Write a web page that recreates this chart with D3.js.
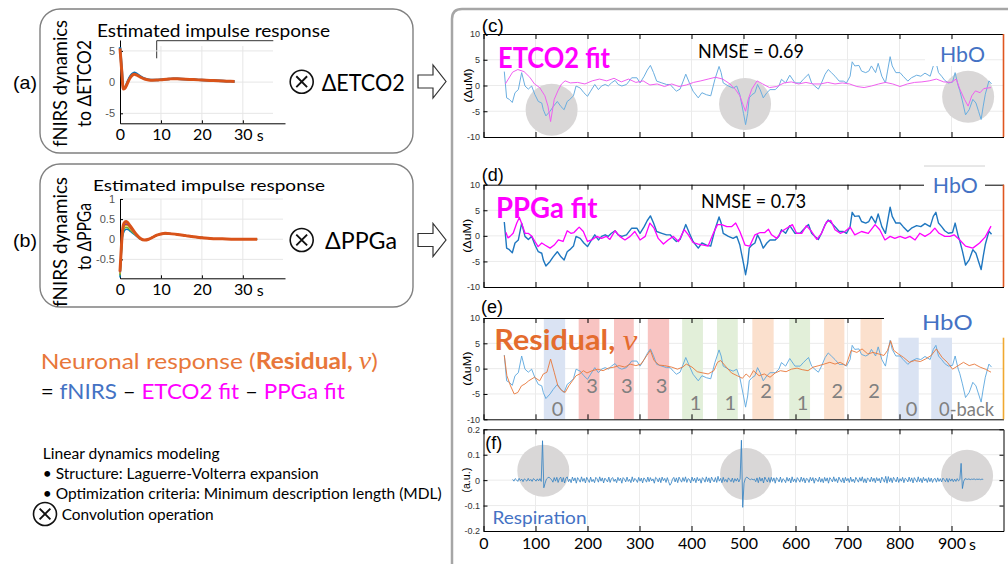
<!DOCTYPE html>
<html><head><meta charset="utf-8">
<script src="https://cdn.jsdelivr.net/npm/d3@7"></script>
<style>body{margin:0;background:#fff}svg{display:block}</style>
</head><body>
<svg id="chart" width="1008" height="564"></svg>
<script>
// ---------------- DATA ----------------
// impulse response (a): fNIRS dynamics to dETCO2
const irTa = [0,0.4,0.8,1.2,1.6,2,2.5,3,3.5,4,5,6,7,8,9,10,12,13,14,16,18,20,22,24,26,28];
const irA_blue   = [5.6,2.2,-1.0,-0.9,-0.4,0.25,0.9,1.3,1.5,1.35,0.9,0.55,0.38,0.32,0.33,0.4,0.5,0.55,0.52,0.45,0.4,0.33,0.27,0.2,0.15,0.1];
const irA_orange = [5.4,2.0,-1.1,-1.0,-0.5,0.1,0.7,1.1,1.25,1.15,0.8,0.5,0.35,0.3,0.32,0.38,0.5,0.55,0.52,0.45,0.4,0.33,0.27,0.2,0.15,0.1];
// impulse response (b): fNIRS dynamics to dPPGa
const irTb = [0,0.3,0.6,1,1.5,2,2.5,3,4,5,6,7,8,9,10,11,12,14,16,18,20,22,25,28,31,33.5];
const irB_blue   = [-0.95,-0.4,0.05,0.2,0.25,0.24,0.2,0.16,0.08,0.0,-0.02,0.0,0.05,0.1,0.13,0.14,0.14,0.12,0.09,0.06,0.04,0.02,0.01,0,0,0];
const irB_green  = [-0.9,-0.35,0.1,0.26,0.3,0.28,0.23,0.18,0.09,0.01,-0.02,0.0,0.05,0.1,0.13,0.14,0.14,0.12,0.09,0.06,0.04,0.02,0.01,0,0,0];
const irB_yellow = [-0.85,-0.3,0.14,0.31,0.35,0.33,0.27,0.21,0.1,0.01,-0.02,0.0,0.05,0.1,0.13,0.15,0.14,0.12,0.09,0.06,0.04,0.02,0.01,0,0,0];
const irB_purple = [-0.82,-0.27,0.17,0.35,0.38,0.36,0.3,0.23,0.11,0.02,-0.02,0.0,0.05,0.1,0.13,0.15,0.14,0.12,0.09,0.06,0.04,0.02,0.01,0,0,0];
const irB_orange = [-0.8,-0.25,0.2,0.4,0.44,0.4,0.33,0.26,0.12,0.02,-0.02,0.0,0.05,0.1,0.13,0.15,0.14,0.12,0.09,0.06,0.04,0.02,0.01,0,0,0];

// time axis ticks (s)
const xTicks = [0,100,200,300,400,500,600,700,800,900];
const yTicksUM = [-10,-5,0,5,10];
const yTicksAU = [-0.2,-0.1,0,0.1,0.2];

// HbO (uM)
const hboT = [40,44.5,49.7,55.4,60.6,67,73.4,79.8,86.2,92.6,99,105.4,112,115,120,128,134,142,149,155,161,166,173,178,186,193,200,206,214,221,227,234,240,246,253,259,266,275,285,295,301,309,315,321,327,333,343,352,359,365,371,378,384,389,396,403,413,420,429,437,445,453,457,461,471,480,487,493,500,504,508,511,516,522,527,532,538,545,551,561,568,573,581,589,599,609,615,625,631,637,644,650,657,663,669,676,684,692,698,705,709,714,722,727,735,741,746,754,759,766,773,777,782,786,793,801,807,816,823,833,841,849,859,865,870,875,881,887,894,902,907,913,916,921,927,934,941,947,952,957,961,965,972,977];
const hboV = [2.7,-2.4,-2.7,-3.3,-1.4,-0.8,2.5,-0.1,-0.7,-0.1,-1.8,-3.1,-3.4,-4.7,-5.9,-5.0,-4.1,-3.1,-4.1,-4.7,-3.1,-2.7,-2.0,-0.1,-0.5,-1.4,-2.1,-1.1,0.2,-0.8,-0.1,0.2,-0.1,0.5,1.0,0.2,-0.1,0.2,1.5,1.5,0.5,1.8,3.0,3.9,2.5,0.85,0.5,0.2,0.2,-0.5,-1.1,-0.7,0.85,2.2,0.5,-1.1,-2.4,-1.4,-1.8,-2.0,1.2,3.7,2.5,0.5,-0.1,-0.5,-0.1,-1.8,-5.4,-7.6,-5.4,-2.4,-1.8,-1.4,0.2,-0.8,-2.4,-1.4,-0.8,-0.8,-0.1,1.2,0.5,2.0,0.5,0.5,1.2,2.2,0.5,-0.1,-0.7,0.5,2.2,3.1,2.5,1.8,0.85,0.85,0.5,1.8,4.6,3.8,3.9,2.8,2.5,2.8,3.8,2.5,4.3,1.8,0.5,2.8,5.6,3.8,2.5,2.5,1.8,0.85,1.5,2.0,1.8,2.4,1.8,3.8,4.6,2.5,1.8,1.0,0.5,0.65,2.5,-0.1,-1.0,-3.0,-5.7,-4.7,-2.7,-3.4,-5.0,-6.6,-4.0,-1.7,0.9,0.3];

// ETCO2 fit (uM)
const etT = [42,56,66,78,89,98,108,118,124,129,136,143,150,157,167,181,195,209,223,237,251,265,279,293,307,320,334,348,362,376,390,404,418,432,446,460,474,484,493,500,504,509,516,526,537,550,564,578,592,606,620,634,648,662,676,690,704,718,732,746,760,773,787,801,815,829,843,857,871,885,899,909,916,925,932,939,946,955,962,976];
const etV = [0.3,2.6,3.1,2.7,1.6,0.3,-0.4,-2.0,-4.0,-7.0,-2.7,-1.05,0.3,0.9,0.5,0.6,0.3,0.9,1.25,0.9,1.4,0.7,1.25,0.6,0.9,0.1,0.3,-0.2,0.3,-0.2,0.1,0.6,0.9,1.25,1.6,1.25,0.3,-0.7,-2.0,-4.0,-5.0,-2.7,-0.7,0.9,0.3,-0.4,-0.2,0.5,0.7,0.3,0.6,0.3,0.3,0.6,0.3,0.5,0.3,-0.2,-0.4,-0.1,0.3,0.6,0.3,-0.2,0.3,0.6,0.7,0.9,1.25,0.7,0.6,1.25,-0.7,-2.7,-4.0,-2.0,-1.05,-1.4,-0.6,-0.4];

// PPGa fit (uM)
const ppT = [43,47,51,57,64,69,73,80,86,93,99,105,112,118,128,136,144,153,161,168,174,179,184,192,200,208,218,227,236,243,253,262,272,282,291,301,311,320,328,336,346,355,365,375,386,394,403,413,423,432,442,450,458,468,477,485,493,503,512,522,532,541,548,554,564,573,583,594,602,612,621,631,641,650,660,668,676,686,695,705,714,727,740,753,762,772,782,791,801,811,820,830,839,849,859,868,876,887,897,905,916,927,941,954,965,976];
const ppV = [0.7,-0.4,-0.1,0.5,2.5,3.6,2.5,0.5,0.5,-0.1,-1.1,-2.1,-1.4,-1.8,-2.4,-1.8,-0.8,-1.1,1.0,0.5,0.65,1.2,1.7,0.85,-1.1,-0.8,-0.1,-0.5,-0.1,-0.7,1.0,-0.1,-0.8,-0.1,0.85,-0.8,-0.1,2.5,1.5,-0.5,-1.6,-0.8,-0.1,-1.1,1.2,0.2,-1.3,-1.6,-1.8,-2.0,0.5,2.2,2.2,1.8,1.8,2.5,0.85,-1.8,-2.0,0.2,0.65,0.65,1.3,0.2,-0.5,0.85,1.5,2.2,0.5,0.5,2.0,0.85,-0.7,0.5,2.8,3.0,1.2,0.5,0.85,1.7,0.2,0.85,0.5,2.2,1.2,-0.8,-0.1,-0.5,-0.1,-0.5,-0.1,-0.8,0.5,-0.1,0.5,1.5,0.5,-0.1,-0.1,0.2,-0.8,-2.0,-2.4,-1.4,-0.2,1.9];

// Residual v (uM)
const resT = [40,45,52,59,66,73,80,87,98,108,115,122,129,136,143,150,157,164,171,178,185,192,199,209,220,230,240,251,261,272,282,293,303,314,321,328,338,348,362,373,383,390,401,411,422,432,443,450,456,467,477,488,498,505,512,519,530,540,551,561,571,582,592,603,613,624,634,645,655,666,676,686,697,707,718,728,739,749,760,770,777,783,789,798,808,819,829,840,850,861,871,882,892,902,913,923,934,944,955,965,976];
const resV = [2.6,-1.4,-3.4,-5.0,-4.7,-3.4,-3.0,-2.4,-1.7,-2.4,-1.05,-0.7,1.9,-0.7,-3.4,-4.3,-4.7,-3.4,-2.4,-1.4,-1.05,-0.4,-0.85,-0.4,-0.1,-0.4,0.1,0.3,0.6,0.3,0.9,0.6,0.9,2.6,3.6,1.6,0.7,0.6,0.3,-0.1,0.3,0.9,0.3,-0.6,-0.85,-1.05,-0.4,1.25,1.6,0.3,-0.85,-1.4,-1.9,-1.05,-1.7,-0.4,-1.4,-1.05,-1.7,-0.85,-0.4,-0.6,-0.1,0.1,-0.2,-0.4,0.3,0.6,0.9,1.25,0.9,1.25,0.6,3.6,3.2,3.9,2.9,3.2,2.9,2.6,3.6,5.5,3.6,2.9,2.2,1.25,1.6,1.4,1.9,2.6,3.9,2.2,1.25,-0.1,0.6,1.25,0.6,0.9,0.3,-0.1,-0.7];

// Respiration (a.u.), sampled every 2.5 s from 56 s
const respStart = 56, respStep = 2.5;
const resp = [
 0.003,-0.004,0.006,0.001,-0.005,0.007,-0.002,0.004,-0.006,0.005,0.001,-0.004,0.007,-0.003,0.003,-0.005,0.006,0.002,-0.004,0.005,
 -0.003,0.006,-0.005,0.155,-0.03,-0.012,0.004,0.009,0.012,0.006,0.002,-0.008,0.01,-0.004,0.011,-0.009,0.006,0.012,-0.007,0.01,
 -0.011,0.008,0.013,-0.006,0.004,-0.01,0.012,-0.003,0.009,-0.012,0.01,0.002,-0.008,0.013,-0.005,0.007,-0.011,0.011,0.001,-0.009,
 0.012,-0.006,0.003,-0.01,0.011,0.005,-0.008,0.013,-0.004,0.009,-0.011,0.008,0.001,-0.007,0.012,-0.009,0.006,0.01,-0.005,0.004,
 -0.01,0.011,-0.002,0.008,-0.012,0.01,0.004,-0.007,0.012,-0.005,0.003,-0.01,0.013,-0.006,0.007,0.001,-0.009,0.011,-0.004,0.008,
 -0.011,0.009,0.002,-0.008,0.012,-0.006,0.01,-0.003,0.005,-0.012,0.011,0.006,-0.007,0.009,-0.01,0.012,-0.002,0.007,-0.009,0.01,
 -0.006,-0.02,-0.012,0.004,0.011,-0.007,0.009,-0.01,0.012,0.002,-0.008,0.01,-0.005,0.013,-0.009,0.006,0.003,-0.011,0.012,-0.004,
 0.008,-0.01,0.011,-0.003,0.006,-0.012,0.01,0.004,-0.008,0.013,-0.006,0.009,-0.011,0.012,0.001,-0.007,0.01,-0.009,0.015,-0.004,
 0.007,-0.01,0.011,-0.005,0.003,-0.008,0.009,0.002,-0.006,0.008,-0.009,0.006,-0.004,0.007,-0.007,0.005,0.157,-0.107,-0.012,0.006,
 0.012,0.009,0.004,0.002,0.005,0.001,0.004,-0.006,0.009,-0.01,0.011,-0.004,0.008,-0.011,0.012,0.002,-0.007,0.01,-0.009,0.011,
 -0.005,0.009,-0.012,0.01,0.003,-0.007,0.012,-0.009,0.006,0.001,-0.01,0.011,-0.004,0.008,-0.011,0.013,-0.006,0.005,-0.009,0.01,
 0.002,-0.008,0.012,-0.005,0.009,-0.011,0.007,0.004,-0.009,0.011,-0.003,0.01,-0.012,0.008,0.001,-0.006,0.012,-0.008,0.006,-0.01,
 0.011,-0.004,0.009,-0.012,0.01,0.003,-0.007,0.013,-0.005,0.006,-0.01,0.012,0.001,-0.008,0.009,-0.011,0.011,-0.003,0.007,-0.009,
 0.012,-0.006,0.004,-0.01,0.011,0.002,-0.008,0.01,-0.004,0.013,-0.009,0.006,-0.011,0.009,0.003,-0.007,0.012,-0.005,0.008,-0.01,
 0.01,-0.003,0.007,-0.011,0.012,0.004,-0.008,0.015,-0.012,0.014,-0.006,0.009,-0.01,0.011,0.002,-0.007,0.012,-0.009,0.006,-0.004,
 0.011,-0.01,0.008,0.003,-0.007,0.012,-0.005,0.009,-0.011,0.01,0.001,-0.008,0.013,-0.006,0.007,-0.01,0.011,-0.003,0.006,-0.009,
 0.01,-0.006,0.008,-0.009,0.004,0.007,-0.008,0.009,-0.005,0.006,-0.007,0.008,0.002,-0.006,0.007,-0.008,0.006,-0.004,0.005,-0.006,
 0.004,-0.005,0.006,-0.003,0.002,0.066,-0.033,-0.004,0.006,0.004,0.003,0.005,0.002,0.004,0.003,0.005,0.002,0.004,0.003,0.004,
 0.002,0.004,0.003];

// highlighted events (gray discs)
const evC_T = [131,503,932], evC_V = [-4.7,-3.6,-2.2];
const evF_T = [115,505,930], evF_V = [0.037,0.024,0.017];

// n-back task blocks
const blkStart = [116,183,251,316,382,449,517,588,655,725,798,861];
const blkEnd   = [157,223,289,357,422,489,558,628,694,766,837,901];
const blkLabel = ["0","3","3","3","1","1","2","1","2","2","0","0-back"];

// ---------------- DRAWING ----------------
const svg = d3.select("#chart");
svg.append("rect").attr("width",1008).attr("height",564).attr("fill","#fff");

function txt(g,x,y,s,o={}){
  const t=g.append("text").attr("x",x).attr("y",y).text(s)
    .attr("font-family",o.family||"Lato").attr("font-size",o.size||14)
    .attr("font-weight",o.weight||"normal").attr("fill",o.fill||"#000")
    .attr("text-anchor",o.anchor||"start").attr("dominant-baseline","central");
  if(o.len) t.attr("textLength",o.len).attr("lengthAdjust","spacingAndGlyphs");
  if(o.rotate) t.attr("transform",`rotate(${o.rotate},${x},${y})`);
  return t;
}
function otimes(cx,cy,r){
  const g=svg.append("g");
  g.append("circle").attr("cx",cx).attr("cy",cy).attr("r",r).attr("fill","#fff").attr("stroke","#111").attr("stroke-width",1.6);
  const a=r*0.47;
  g.append("path").attr("d",`M${cx-a},${cy-a}L${cx+a},${cy+a}M${cx+a},${cy-a}L${cx-a},${cy+a}`)
    .attr("stroke","#111").attr("stroke-width",1.9).attr("fill","none");
}
function arrow(x0,cy){
  const pts=[[x0,cy-6.5],[x0+15,cy-6.5],[x0+15,cy-16.5],[x0+28,cy],[x0+15,cy+16.5],[x0+15,cy+6.5],[x0,cy+6.5]];
  svg.append("path").attr("d","M"+pts.map(p=>p.join(",")).join("L")+"Z")
    .attr("fill","#fff").attr("stroke","#333").attr("stroke-width",1.2);
}

// ---- left boxes
const L = svg.append("g");
L.append("rect").attr("x",40).attr("y",9).attr("width",373).attr("height",144).attr("rx",20)
  .attr("fill","#fff").attr("stroke","#808080").attr("stroke-width",1.4);
L.append("rect").attr("x",40).attr("y",164).attr("width",373).attr("height",143).attr("rx",20)
  .attr("fill","#fff").attr("stroke","#808080").attr("stroke-width",1.4);

txt(L,13,82,"(a)",{family:"Liberation Sans",size:19,len:24});
txt(L,13,240,"(b)",{family:"Liberation Sans",size:19,len:24});
txt(L,59,83.5,"fNIRS dynamics",{size:19,anchor:"middle",rotate:-90,len:127});
txt(L,83,83.5,"to ΔETCO2",{size:19,anchor:"middle",rotate:-90,len:87});
txt(L,59,242,"fNIRS dynamics",{size:19,anchor:"middle",rotate:-90,len:130});
txt(L,83,236.5,"to ΔPPGa",{size:19,anchor:"middle",rotate:-90,len:67});

// small charts
const xa=d3.scaleLinear().domain([0,40.3]).range([120,285]);
const ya=d3.scaleLinear().domain([-6.6,6.75]).range([123.3,40]);
const xb=xa;
const yb=d3.scaleLinear().domain([-0.97,1]).range([278.3,199]);

function smallChart(xs,ys,yt,gridTop,gridRight){
  const g=svg.append("g");
  g.selectAll(null).data([10,20,30]).join("line")
    .attr("x1",d=>xs(d)).attr("x2",d=>xs(d)).attr("y1",gridTop).attr("y2",ys.range()[0])
    .attr("stroke","#e6e6e6");
  g.selectAll(null).data(yt).join("line")
    .attr("x1",xs(0)).attr("x2",gridRight).attr("y1",d=>ys(d)).attr("y2",d=>ys(d))
    .attr("stroke","#e6e6e6");
  const ax=g.append("g").attr("transform",`translate(0,${ys.range()[0]})`)
    .call(d3.axisBottom(xs).tickValues([0,10,20,30]).tickSize(-3).tickSizeOuter(0).tickPadding(5.5).tickFormat(d=>String(d)));
  ax.selectAll("text").attr("font-family","Lato").attr("font-size",16).attr("fill","#000");
  const ay=g.append("g").attr("transform",`translate(${xs(0)},0)`)
    .call(d3.axisLeft(ys).tickValues(yt).tickSize(-3).tickSizeOuter(0).tickPadding(5).tickFormat(d=>String(d)));
  ay.selectAll("text").attr("font-family","Liberation Sans").attr("font-size",11).attr("fill","#555");
  g.selectAll(".domain").attr("stroke","#000");
  g.selectAll(".tick line").attr("stroke","#000");
  txt(g,xs(30)+14,ys.range()[0]+11.5,"s",{size:16});
  return g;
}
const gA=smallChart(xa,ya,[-5,0,5],46,273);
const gB=smallChart(xb,yb,[-0.5,0,0.5,1],199,283);
// frame fragment in (a)
L.append("path").attr("d","M156.7,58.3V40.7H273.3").attr("fill","none").attr("stroke","#333").attr("stroke-width",1);

const irLine=(xs,ys)=>d3.line().x(d=>xs(d[0])).y(d=>ys(d[1])).curve(d3.curveMonotoneX);
gA.append("path").datum(d3.zip(irTa,irA_blue)).attr("d",irLine(xa,ya)).attr("fill","none").attr("stroke","#0072bd").attr("stroke-width",2.5);
gA.append("path").datum(d3.zip(irTa,irA_orange)).attr("d",irLine(xa,ya)).attr("fill","none").attr("stroke","#d95319").attr("stroke-width",3);
[[irB_blue,"#0072bd"],[irB_green,"#77ac30"],[irB_yellow,"#edb120"],[irB_purple,"#7e2f8e"],[irB_orange,"#d95319"]].forEach(([v,c],i)=>{
  gB.append("path").datum(d3.zip(irTb,v)).attr("d",irLine(xb,yb)).attr("fill","none").attr("stroke",c).attr("stroke-width",i===4?3:1.6);
});

txt(L,97,30,"Estimated impulse response",{size:17,len:233});
txt(L,93,184.3,"Estimated impulse response",{size:16,len:232});

otimes(301.7,81.7,11.5);
otimes(301.7,240,11.5);
txt(L,321.7,82,"ΔETCO2",{size:23,len:83});
txt(L,325,240,"ΔPPGa",{size:23,len:72});
arrow(418,81.5);
arrow(418,240);

// lower-left text
const ORANGE="#e8773a", HBLUE="#4472c4", MAG="#ff00ff";
{
  const t=L.append("text").attr("x",40.7).attr("y",360).attr("dominant-baseline","central")
    .attr("font-family","Lato").attr("font-size",22).attr("fill",ORANGE)
    .attr("textLength",337).attr("lengthAdjust","spacingAndGlyphs");
  t.append("tspan").text("Neuronal response (");
  t.append("tspan").attr("font-weight","bold").text("Residual, ");
  t.append("tspan").attr("font-family","Liberation Serif").attr("font-style","italic").attr("font-size",25).text("v");
  t.append("tspan").text(")");
  const t2=L.append("text").attr("x",40.7).attr("y",390).attr("dominant-baseline","central")
    .attr("font-family","Lato").attr("font-size",22).attr("fill","#000")
    .attr("textLength",304).attr("lengthAdjust","spacingAndGlyphs");
  t2.append("tspan").text("= ");
  t2.append("tspan").attr("fill",HBLUE).text("fNIRS");
  t2.append("tspan").text(" – ");
  t2.append("tspan").attr("fill",MAG).text("ETCO2 fit");
  t2.append("tspan").text(" – ");
  t2.append("tspan").attr("fill",MAG).text("PPGa fit");
}
txt(L,42.7,453,"Linear dynamics modeling",{size:14.5,len:177});
txt(L,42.7,473,"• Structure: Laguerre-Volterra expansion",{size:14.5,len:276});
txt(L,42.7,493.3,"• Optimization criteria: Minimum description length (MDL)",{size:14.5,len:399});
otimes(45,514,11.5);
txt(L,61.7,514,"Convolution operation",{size:14.5,len:152});

// ---- right side
svg.append("path").attr("d","M452,564V19Q452,9 462,9H1010").attr("fill","none").attr("stroke","#a6a6a6").attr("stroke-width",2.5);

const xT=d3.scaleLinear().domain([0,1000]).range([483.5,1003.5]);
const yC=d3.scaleLinear().domain([-10,10]).range([137,34]);
const yD=d3.scaleLinear().domain([-10,10]).range([287,184.7]);
const yE=d3.scaleLinear().domain([-10,10]).range([419.3,318]);
const yF=d3.scaleLinear().domain([-0.2,0.2]).range([531,429.3]);

const gridL=svg.append("g"), markL=svg.append("g"), lineL=svg.append("g"), axisL=svg.append("g"), boxL=svg.append("g"), textL=svg.append("g");

function grid(y,yt){
  const [b,t]=y.range();
  gridL.append("g").selectAll("line").data(xTicks.slice(1)).join("line")
    .attr("x1",d=>xT(d)).attr("x2",d=>xT(d)).attr("y1",t).attr("y2",b).attr("stroke","#ebebeb");
  gridL.append("g").selectAll("line").data(yt).join("line")
    .attr("x1",xT(0)).attr("x2",xT(1000)).attr("y1",d=>y(d)).attr("y2",d=>y(d)).attr("stroke","#ebebeb");
}
grid(yC,[-5,0,5]); grid(yD,[-5,0,5]); grid(yE,[-5,0,5]); grid(yF,[-0.1,0,0.1]);

// discs
markL.selectAll(null).data(d3.zip(evC_T,evC_V)).join("circle")
  .attr("cx",d=>xT(d[0])).attr("cy",d=>yC(d[1])).attr("r",26).attr("fill","#d9d7d7");
markL.selectAll(null).data(d3.zip(evF_T,evF_V)).join("circle")
  .attr("cx",d=>xT(d[0])).attr("cy",d=>yF(d[1])).attr("r",26).attr("fill","#d9d7d7");
// blocks
const blkColor={"0":"#dae3f3","0-back":"#dae3f3","1":"#e2efd9","2":"#fbe0cd","3":"#f8c4c2"};
const blocks=blkStart.map((s,i)=>({s,e:blkEnd[i],lab:blkLabel[i]}));
markL.selectAll(null).data(blocks).join("rect")
  .attr("x",d=>xT(d.s)).attr("width",d=>xT(d.e)-xT(d.s))
  .attr("y",yE(10)).attr("height",yE(-10)-yE(10)).attr("fill",d=>blkColor[d.lab]);

// lines
const ln=y=>d3.line().x(d=>xT(d[0])).y(d=>y(d[1]));
function draw(y,T,V,col,w){
  lineL.append("path").datum(d3.zip(T,V)).attr("d",ln(y)).attr("fill","none")
    .attr("stroke",col).attr("stroke-width",w).attr("stroke-linejoin","round");
}
draw(yC,hboT,hboV,"#6aaee0",1.0);
draw(yC,etT,etV,"#f060f0",1.0);
draw(yD,hboT,hboV,"#1f77c0",1.4);
draw(yD,ppT,ppV,MAG,1.3);
draw(yE,hboT,hboV,"#5aa6de",0.9);
draw(yE,resT,resV,"#e8773a",0.9);
draw(yF,resp.map((v,i)=>respStart+i*respStep),resp,"#2f7fc1",0.8);

// axes
function axes(y,yt,fmt,rightCol,rightFrom,labels){
  const [b,t]=y.range();
  const g=axisL.append("g");
  const gl=g.append("g").attr("transform",`translate(${xT(0)},0)`)
    .call(d3.axisLeft(y).tickValues(yt).tickSize(-4).tickSizeOuter(0).tickPadding(3.5).tickFormat(fmt));
  const gb=g.append("g").attr("transform",`translate(0,${b})`)
    .call(d3.axisBottom(xT).tickValues(xTicks).tickSize(-5).tickSizeOuter(0).tickPadding(6.8).tickFormat(labels?(d=>String(d)):""));
  g.append("g").attr("transform",`translate(0,${t})`)
    .call(d3.axisTop(xT).tickValues(xTicks).tickSize(-5).tickSizeOuter(0).tickFormat(""));
  if(rightCol==="#000"){
    g.append("g").attr("transform",`translate(${xT(1000)},0)`)
      .call(d3.axisRight(y).tickValues(yt).tickSize(-4).tickSizeOuter(0).tickFormat(""));
  } else {
    g.append("line").attr("x1",xT(1000)).attr("x2",xT(1000)).attr("y1",rightFrom).attr("y2",b)
      .attr("stroke",rightCol).attr("stroke-width",1.6);
  }
  g.selectAll(".domain").attr("stroke","#000");
  g.selectAll(".tick line").attr("stroke","#000");
  gl.selectAll("text").attr("font-family","Liberation Sans").attr("font-size",9).attr("fill","#333");
  gb.selectAll("text").attr("font-family","Lato").attr("font-size",16).attr("fill","#000");
}
const fmtS=d=>String(d);
axes(yC,yTicksUM,fmtS,"#e0561f",34,false);
axes(yD,yTicksUM,fmtS,"#e0561f",184.7,false);
axes(yE,yTicksUM,fmtS,"#f0a830",318,false);
axes(yF,yTicksAU,fmtS,"#000",429.3,true);

// legend white boxes
boxL.append("rect").attr("x",925).attr("y",40).attr("width",60).attr("height",26).attr("fill","#fff");
boxL.append("rect").attr("x",924).attr("y",166).attr("width",61).attr("height",27).attr("fill","#fff");
boxL.append("line").attr("x1",924).attr("x2",985).attr("y1",166).attr("y2",166).attr("stroke","#d0d0d0");
boxL.append("rect").attr("x",884).attr("y",308).attr("width",124).attr("height",29.7).attr("fill","#fff");

// texts
txt(textL,481.7,26,"(c)",{family:"Liberation Sans",size:18,len:22});
txt(textL,481.7,175,"(d)",{family:"Liberation Sans",size:18,len:22});
txt(textL,481,306.5,"(e)",{family:"Liberation Sans",size:18,len:22});
txt(textL,485.3,443,"(f)",{family:"Liberation Sans",size:18,len:17});
[yC,yD,yE].forEach(y=>txt(textL,467.5,y(0),"(ΔuM)",{family:"Liberation Sans",size:10.5,anchor:"middle",rotate:-90,len:34}));
txt(textL,466,yF(0),"(a.u.)",{family:"Liberation Sans",size:10.5,anchor:"middle",rotate:-90,len:25});

txt(textL,498,56,"ETCO2 fit",{size:29,weight:"bold",fill:MAG,len:112});
txt(textL,698,50.5,"NMSE = 0.69",{size:19,len:106});
txt(textL,940,53,"HbO",{size:21,fill:HBLUE,len:45});
txt(textL,496,206,"PPGa fit",{size:29,weight:"bold",fill:MAG,len:101.6});
txt(textL,701,200.5,"NMSE = 0.73",{size:19,len:105});
txt(textL,932.8,184,"HbO",{size:21,fill:HBLUE,len:45});
{
  const t=textL.append("text").attr("x",494.3).attr("y",339).attr("dominant-baseline","central")
    .attr("font-family","Lato").attr("font-size",28).attr("font-weight","bold").attr("fill","#e46c2e")
    .attr("textLength",143).attr("lengthAdjust","spacingAndGlyphs");
  t.append("tspan").text("Residual, ");
  t.append("tspan").attr("font-family","Liberation Serif").attr("font-style","italic").attr("font-weight","normal").attr("font-size",30).text("v");
}
txt(textL,921.9,321.5,"HbO",{size:21,fill:HBLUE,len:50.7});
txt(textL,492.5,516.7,"Respiration",{size:18,fill:HBLUE,len:94});
txt(textL,969,543.5,"s",{size:16});

const labY={"0":-7.8,"0-back":-7.8,"3":-3.2,"1":-6.5,"2":-4.3};
blocks.forEach(d=>{
  const cx=(xT(d.s)+xT(d.e))/2;
  if(d.lab==="0-back") txt(textL,cx-2.5,yE(labY[d.lab]),d.lab,{size:20,fill:"#808080",len:55});
  else txt(textL,cx+3,yE(labY[d.lab]),d.lab,{size:20,fill:"#808080",anchor:"middle"});
});
</script>
</body></html>
